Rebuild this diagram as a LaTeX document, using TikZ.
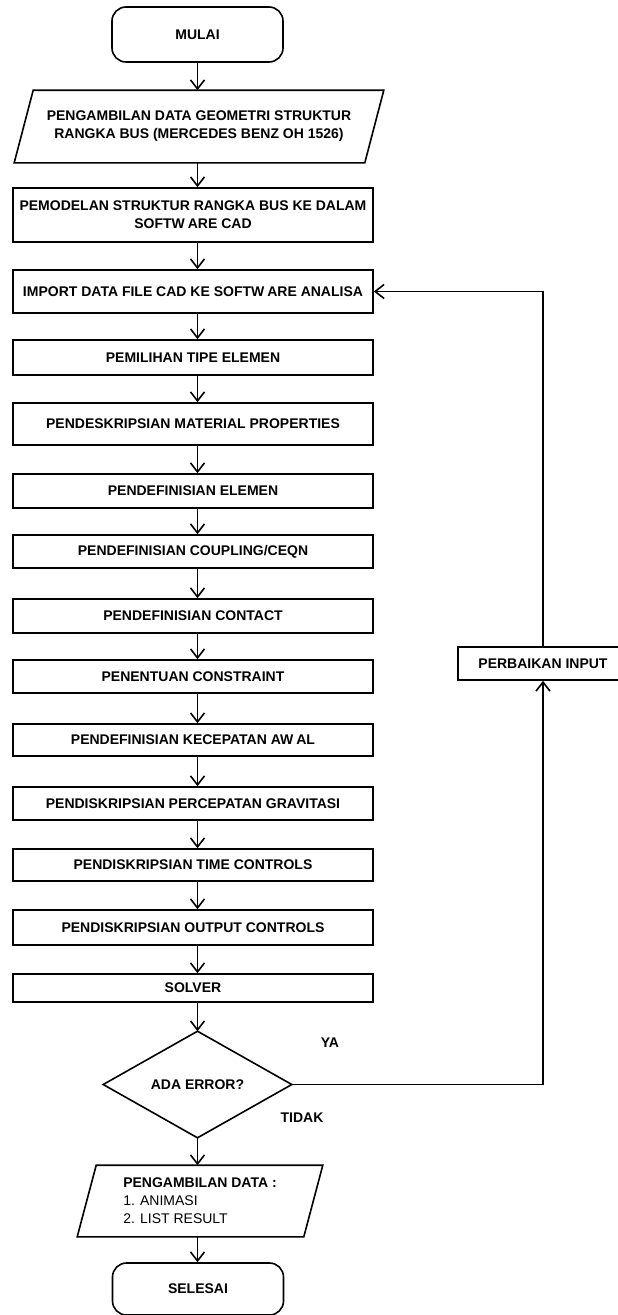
\documentclass[tikz,border=0pt]{standalone}
\usepackage{fontspec}
\setmainfont{Liberation Sans}
\usetikzlibrary{arrows.meta,calc}
\begin{document}
\begin{tikzpicture}[x=1pt,y=-1pt,
  line width=1.6pt,
  every node/.style={font=\fontsize{14}{18}\selectfont\bfseries, inner sep=0pt, align=center},
  procbox/.style={draw, minimum width=360pt},
  termbox/.style={draw, rounded corners=14pt, minimum width=171pt},
  flowarrow/.style={-{Straight Barb[length=9pt,width=14pt]}}
]
\useasboundingbox (0,0) rectangle (618,1315);
\coordinate (ax) at (197.5,0);

\node[termbox, minimum height=55pt] (start) at (197.5,34.5) {MULAI};

\node[minimum width=368pt, minimum height=71pt] (p1) at (199,126.5) {PENGAMBILAN DATA GEOMETRI STRUKTUR\\RANGKA BUS (MERCEDES BENZ OH 1526)};
\draw ($(p1.north west)+(19,0)$) -- (p1.north east) -- ($(p1.south east)+(-19,0)$) -- (p1.south west) -- cycle;

\node[procbox, minimum height=54pt] (model) at (193,215) {PEMODELAN STRUKTUR RANGKA BUS KE DALAM\\SOFTW\kern3pt{}ARE CAD};
\node[procbox, minimum height=43pt] (import) at (193,291.5) {IMPORT DATA FILE CAD KE SOFTW\kern3pt{}ARE ANALISA};
\node[procbox, minimum height=35pt] (tipe) at (193,357.5) {PEMILIHAN TIPE ELEMEN};
\node[procbox, minimum height=42pt] (material) at (193,424) {PENDESKRIPSIAN MATERIAL PROPERTIES};
\node[procbox, minimum height=34pt] (elemen) at (193,491) {PENDEFINISIAN ELEMEN};
\node[procbox, minimum height=33pt] (coupling) at (193,551.5) {PENDEFINISIAN COUPLING/CEQN};
\node[procbox, minimum height=34pt] (contact) at (193,616) {PENDEFINISIAN CONTACT};
\node[procbox, minimum height=33pt] (constraint) at (193,676.5) {PENENTUAN CONSTRAINT};
\node[procbox, minimum height=32pt] (awal) at (193,740) {PENDEFINISIAN KECEPATAN AW\kern3pt{}AL};
\node[procbox, minimum height=33pt] (gravitasi) at (193,803.5) {PENDISKRIPSIAN PERCEPATAN GRAVITASI};
\node[procbox, minimum height=32pt] (time) at (193,865) {PENDISKRIPSIAN TIME CONTROLS};
\node[procbox, minimum height=35pt] (output) at (193,927.5) {PENDISKRIPSIAN OUTPUT CONTROLS};
\node[procbox, minimum height=28pt] (solver) at (193,988) {SOLVER};

\node[minimum width=187pt, minimum height=105pt] (dec) at (197.5,1084.5) {ADA ERROR?};
\draw (dec.north) -- (dec.east) -- (dec.south) -- (dec.west) -- cycle;

\node[minimum width=244pt, minimum height=70pt, align=left] (p2) at (200,1201) {PENGAMBILAN DATA :\\{\mdseries 1. ANIMASI}\\{\mdseries 2. LIST RESULT}};
\draw ($(p2.north west)+(19,0)$) -- (p2.north east) -- ($(p2.south east)+(-19,0)$) -- (p2.south west) -- cycle;

\node[termbox, minimum height=52pt] (stop) at (198,1289) {SELESAI};

\node[draw, minimum width=170pt, minimum height=33pt] (fix) at (543,663.5) {PERBAIKAN INPUT};

\node (ya) at (330,1043) {YA};
\node (tidak) at (302,1118) {TIDAK};

\draw[flowarrow] (start.south -| ax) -- (p1.north -| ax);
\draw[flowarrow] (p1.south -| ax) -- (model.north -| ax);
\draw[flowarrow] (model.south -| ax) -- (import.north -| ax);
\draw[flowarrow] (import.south -| ax) -- (tipe.north -| ax);
\draw[flowarrow] (tipe.south -| ax) -- (material.north -| ax);
\draw[flowarrow] (material.south -| ax) -- (elemen.north -| ax);
\draw[flowarrow] (elemen.south -| ax) -- (coupling.north -| ax);
\draw[flowarrow] (coupling.south -| ax) -- (contact.north -| ax);
\draw[flowarrow] (contact.south -| ax) -- (constraint.north -| ax);
\draw[flowarrow] (constraint.south -| ax) -- (awal.north -| ax);
\draw[flowarrow] (awal.south -| ax) -- (gravitasi.north -| ax);
\draw[flowarrow] (gravitasi.south -| ax) -- (time.north -| ax);
\draw[flowarrow] (time.south -| ax) -- (output.north -| ax);
\draw[flowarrow] (output.south -| ax) -- (solver.north -| ax);
\draw[flowarrow] (solver.south -| ax) -- (dec.north);
\draw[flowarrow] (dec.south) -- (p2.north -| ax);
\draw[flowarrow] (p2.south -| ax) -- (stop.north -| ax);

\draw[flowarrow] (dec.east) -| (fix.south);
\draw[flowarrow] (fix.north) |- (import.east);
\end{tikzpicture}
\end{document}
